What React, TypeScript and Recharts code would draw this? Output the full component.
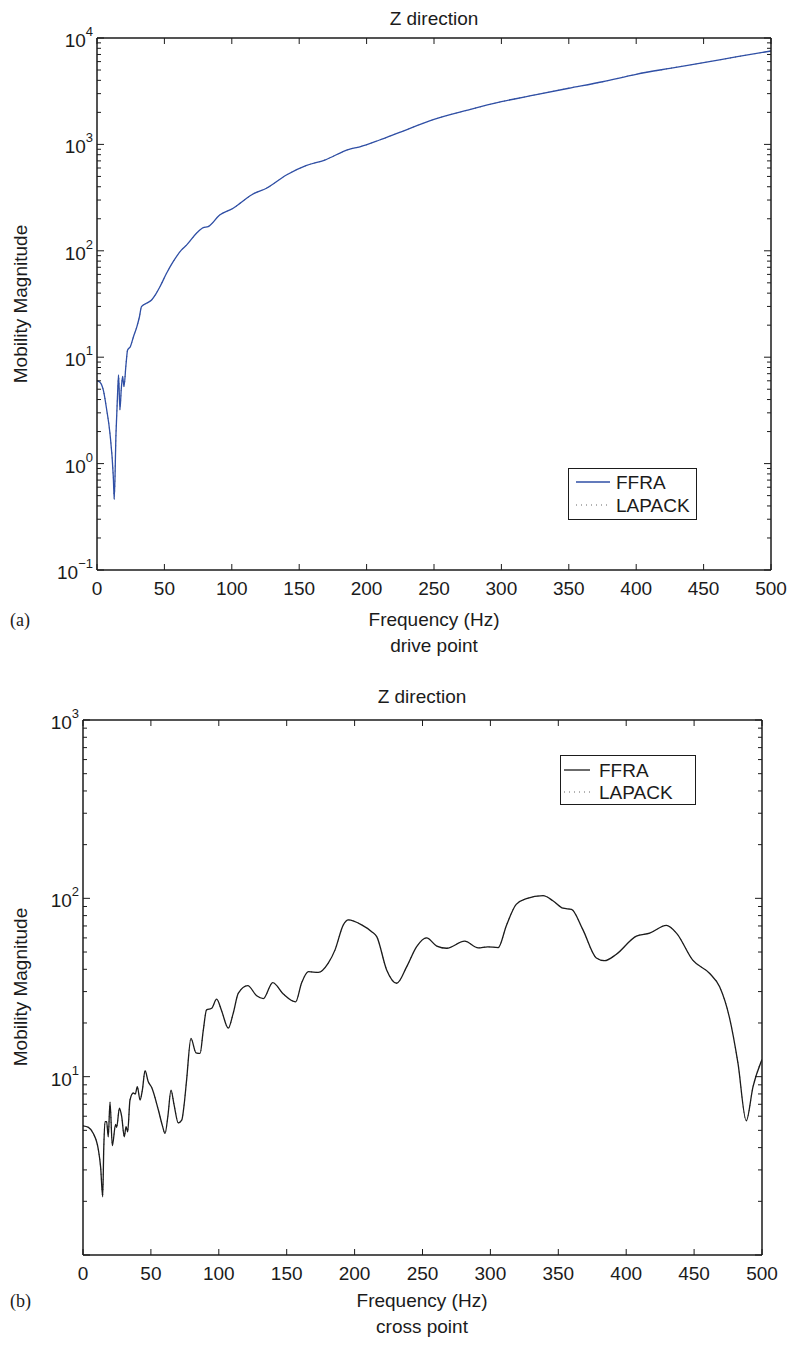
import React from 'react'
import { LineChart, Line, XAxis, YAxis, Legend } from 'recharts'

const FONT = '"Liberation Sans", Arial, Helvetica, sans-serif'
const INK = '#1b1b1b'
const BLUE = '#2f4fa6'

// shared x axis
const freqTicks = [0, 50, 100, 150, 200, 250, 300, 350, 400, 450, 500]

// (a) drive point
const driveDecades = [0.1, 1, 10, 100, 1000, 10000]
const driveLabelled = [0.1, 1, 10, 100, 1000, 10000]
const driveFreq = [0, 2, 4.7, 7.2, 9.6, 12.1, 12.8, 14.1, 15.1, 16, 17, 18, 19, 20, 21.5, 22.7, 24.8, 27, 29.6, 31.5, 33, 36.7, 40.5, 43.5, 46.7, 51.6, 56.5, 62.7, 66.4, 73.8, 78.8, 82.5, 91, 101, 106, 111, 115.8, 125.7, 140.5, 155, 169, 187, 195, 209.6, 224, 250, 275, 300, 325, 350, 375, 400, 425, 450, 475, 500]
const driveMag = [6.0, 5.85, 4.9, 3.2, 1.93, 0.75, 0.46, 1.93, 4.0, 6.8, 3.2, 5.0, 6.6, 5.3, 8.5, 11.7, 12.6, 15.5, 19.4, 24, 29.9, 32.1, 34.5, 39, 46, 61.5, 79, 102, 113, 146, 165, 169, 217, 251, 279, 312, 342, 387, 516, 631, 713, 900, 950, 1100, 1290, 1720, 2100, 2520, 2920, 3370, 3880, 4560, 5190, 5870, 6670, 7550]

// (b) cross point
const crossDecades = [1, 10, 100, 1000]
const crossLabelled = [10, 100, 1000]
const crossFreq = [0, 4, 7.6, 11.3, 13, 14.5, 15.3, 16.2, 17.4, 18.6, 19.9, 21.6, 24, 24.8, 26.8, 28.5, 30.4, 31.7, 32.9, 34.6, 37, 38.5, 40, 42, 43.7, 45.7, 48, 50.6, 55.5, 58.5, 60.4, 62.5, 64.8, 67, 70.2, 72.7, 74.5, 76.3, 79.5, 83.2, 86.2, 88.5, 91, 94.8, 98.4, 102, 107, 110.5, 114.4, 121.3, 127.9, 132.8, 139.7, 147.5, 156.6, 161, 166, 173.3, 180.6, 185.6, 191.7, 195.4, 205.2, 212.6, 216.3, 223.6, 231, 238.4, 245.7, 253, 260.5, 267.8, 281, 291, 298, 305.7, 311.8, 319, 326.5, 338.8, 346, 353.5, 359.7, 368, 378, 384, 392.8, 407.5, 417.3, 429.6, 437, 449, 461.5, 468.8, 476, 482.3, 488.4, 493.4, 500]
const crossMag = [5.3, 5.2, 4.8, 3.9, 3.1, 2.12, 4.0, 5.6, 5.6, 4.6, 7.2, 4.1, 5.4, 5.2, 6.65, 5.97, 4.6, 5.25, 4.9, 7.4, 8.1, 8.0, 8.8, 7.4, 8.4, 10.8, 9.4, 8.7, 6.5, 5.3, 4.8, 6.0, 8.4, 7.0, 5.5, 5.7, 7.0, 9.6, 16.4, 13.6, 13.5, 18, 23.7, 24.2, 27.2, 23.5, 18.7, 22.5, 29.4, 32.4, 28.4, 27.4, 33.7, 29.1, 26.3, 33.6, 38.8, 38.4, 43.3, 51.4, 71, 75.7, 71, 65, 61, 39.7, 33.4, 41.4, 53.6, 60, 54, 52.5, 57.5, 52.8, 53.5, 52.9, 70.5, 92.5, 99.6, 103.5, 97, 88, 86.7, 67, 46.3, 44.7, 48.6, 61.4, 63.8, 70.5, 63.8, 45, 37.9, 31.9, 21.5, 11.9, 5.66, 8.8, 12.5]

const minorSteps = [2, 3, 4, 5, 6, 7, 8, 9]

function withMinors(decades: number[]) {
  const out: number[] = []
  decades.forEach((d, i) => {
    out.push(d)
    if (i < decades.length - 1) minorSteps.forEach(m => out.push(+(d * m).toPrecision(6)))
  })
  return out
}

const inList = (v: number, list: number[]) => list.some(d => Math.abs(d - v) / d < 1e-6)

const axisStyle = { stroke: INK, strokeWidth: 1.5 }

function expText(v: number) {
  const e = Math.round(Math.log10(v))
  return e < 0 ? '\u2212' + Math.abs(e) : String(e)
}

function leftTick(decades: number[], labelled: number[]) {
  return (props: any) => {
    const { x, y, payload } = props
    const v = payload.value
    const major = inList(v, decades)
    return (
      <g>
        <line x1={x} x2={x + (major ? 7 : 4)} y1={y} y2={y} stroke={INK} strokeWidth={1} />
        {major && inList(v, labelled) && (
          <text x={x - 4} y={y + 9} textAnchor="end" fontFamily={FONT} fontSize={19} fill={INK}>
            10<tspan dy={-11} fontSize={13}>{expText(v)}</tspan>
          </text>
        )}
      </g>
    )
  }
}

function rightTick(decades: number[]) {
  return (props: any) => {
    const { x, y, payload } = props
    const major = inList(payload.value, decades)
    return <line x1={x} x2={x - (major ? 7 : 4)} y1={y} y2={y} stroke={INK} strokeWidth={1} />
  }
}

const bottomTick = (props: any) => {
  const { x, y, payload } = props
  return (
    <g>
      <line x1={x} x2={x} y1={y} y2={y - 6} stroke={INK} strokeWidth={1} />
      <text x={x} y={y + 25} textAnchor="middle" fontFamily={FONT} fontSize={19} fill={INK}>
        {payload.value}
      </text>
    </g>
  )
}

const topTick = (props: any) => {
  const { x, y } = props
  return <line x1={x} x2={x} y1={y} y2={y + 6} stroke={INK} strokeWidth={1} />
}

type LegendLayout = { w: number; h: number; x0: number; x1: number; tx: number; rows: number[]; color: string }

function legendContent(lay: LegendLayout) {
  return (props: any) => {
    const items = [...(props.payload || [])].sort((a: any, b: any) => String(a.value).localeCompare(String(b.value)))
    return (
      <svg width={lay.w} height={lay.h} style={{ display: 'block' }}>
        <rect x={0.5} y={0.5} width={lay.w - 1} height={lay.h - 1} fill="#fff" stroke={INK} strokeWidth={1} />
        {items.map((it: any, i: number) => {
          const yy = lay.rows[i]
          const dotted = it.value === 'LAPACK'
          return (
            <g key={it.value}>
              <line x1={lay.x0} x2={lay.x1} y1={yy} y2={yy} stroke={dotted ? '#666' : lay.color} strokeWidth={dotted ? 1 : 1.3} strokeDasharray={dotted ? '1 4' : undefined} />
              <text x={lay.tx} y={yy + 7} fontFamily={FONT} fontSize={19} fill={INK}>{it.value}</text>
            </g>
          )
        })}
      </svg>
    )
  }
}

type PanelProps = {
  freq: number[]
  mag: number[]
  decades: number[]
  labelled: number[]
  color: string
  width: number
  height: number
  margin: { top: number; right: number; bottom: number; left: number }
  legendPos: { left: number; top: number }
  legend: LegendLayout
}

function Panel({ freq, mag, decades, labelled, color, width, height, margin, legendPos, legend }: PanelProps) {
  const rows = freq.map((f, i) => ({ f, ffra: mag[i], lapack: mag[i] }))
  const ticks = withMinors(decades)
  const domain = [decades[0], decades[decades.length - 1]]
  return (
    <LineChart width={width} height={height} data={rows} margin={margin}>
      <XAxis dataKey="f" type="number" domain={[0, 500]} ticks={freqTicks} interval={0} height={30} tickSize={0} tickMargin={0} tickLine={false} axisLine={axisStyle} tick={bottomTick} allowDataOverflow />
      <XAxis xAxisId="top" orientation="top" dataKey="f" type="number" domain={[0, 500]} ticks={freqTicks} interval={0} height={10} tickSize={0} tickMargin={0} tickLine={false} axisLine={axisStyle} tick={topTick} allowDataOverflow />
      <YAxis type="number" scale="log" domain={domain} allowDataOverflow ticks={ticks} interval={0} width={60} tickSize={0} tickMargin={0} tickLine={false} axisLine={axisStyle} tick={leftTick(decades, labelled)} />
      <YAxis yAxisId="right" orientation="right" type="number" scale="log" domain={domain} allowDataOverflow ticks={ticks} interval={0} width={10} tickSize={0} tickMargin={0} tickLine={false} axisLine={axisStyle} tick={rightTick(decades)} />
      <Line xAxisId="top" yAxisId="right" type="monotone" dataKey="lapack" name="LAPACK" stroke="#666" strokeWidth={1} strokeDasharray="1 4" dot={false} isAnimationActive={false} />
      <Line type="monotone" dataKey="ffra" name="FFRA" stroke={color} strokeWidth={1.3} dot={false} isAnimationActive={false} />
      <Legend layout="horizontal" verticalAlign="middle" align="center" wrapperStyle={{ left: legendPos.left, top: legendPos.top, width: legend.w, height: legend.h }} content={legendContent(legend)} />
    </LineChart>
  )
}

const txt = { fontFamily: FONT, fontSize: 19, fill: INK }
const serif = { fontFamily: '"Liberation Serif", "Times New Roman", serif', fontSize: 18, fill: INK }

export default function App() {
  return (
    <div style={{ position: 'absolute', left: 0, top: 0, width: 793, height: 1346, background: '#fff' }}>
      <div style={{ position: 'absolute', left: 0, top: 0 }}>
        <Panel
          freq={driveFreq}
          mag={driveMag}
          decades={driveDecades}
          labelled={driveLabelled}
          color={BLUE}
          width={793}
          height={680}
          margin={{ top: 28, right: 12, bottom: 80, left: 37 }}
          legendPos={{ left: 568, top: 468 }}
          legend={{ w: 129, h: 52, x0: 8, x1: 42, tx: 48, rows: [14, 37], color: BLUE }}
        />
      </div>
      <div style={{ position: 'absolute', left: 0, top: 680 }}>
        <Panel
          freq={crossFreq}
          mag={crossMag}
          decades={crossDecades}
          labelled={crossLabelled}
          color={INK}
          width={793}
          height={666}
          margin={{ top: 30, right: 21, bottom: 61, left: 23 }}
          legendPos={{ left: 560, top: 75 }}
          legend={{ w: 136, h: 50, x0: 4, x1: 30, tx: 39, rows: [15, 37], color: INK }}
        />
      </div>
      <svg width={793} height={1346} style={{ position: 'absolute', left: 0, top: 0, pointerEvents: 'none' }}>
        <text x={434} y={25} textAnchor="middle" {...txt}>Z direction</text>
        <text x={434} y={626} textAnchor="middle" {...txt}>Frequency (Hz)</text>
        <text x={434} y={652} textAnchor="middle" {...txt}>drive point</text>
        <text x={10} y={626} {...serif}>(a)</text>
        <text x={27} y={304} textAnchor="middle" transform="rotate(-90 27 304)" {...txt}>Mobility Magnitude</text>

        <text x={422} y={703} textAnchor="middle" {...txt}>Z direction</text>
        <text x={422} y={1307} textAnchor="middle" {...txt}>Frequency (Hz)</text>
        <text x={422} y={1333} textAnchor="middle" {...txt}>cross point</text>
        <text x={10} y={1307} {...serif}>(b)</text>
        <text x={27} y={987} textAnchor="middle" transform="rotate(-90 27 987)" {...txt}>Mobility Magnitude</text>
      </svg>
    </div>
  )
}
